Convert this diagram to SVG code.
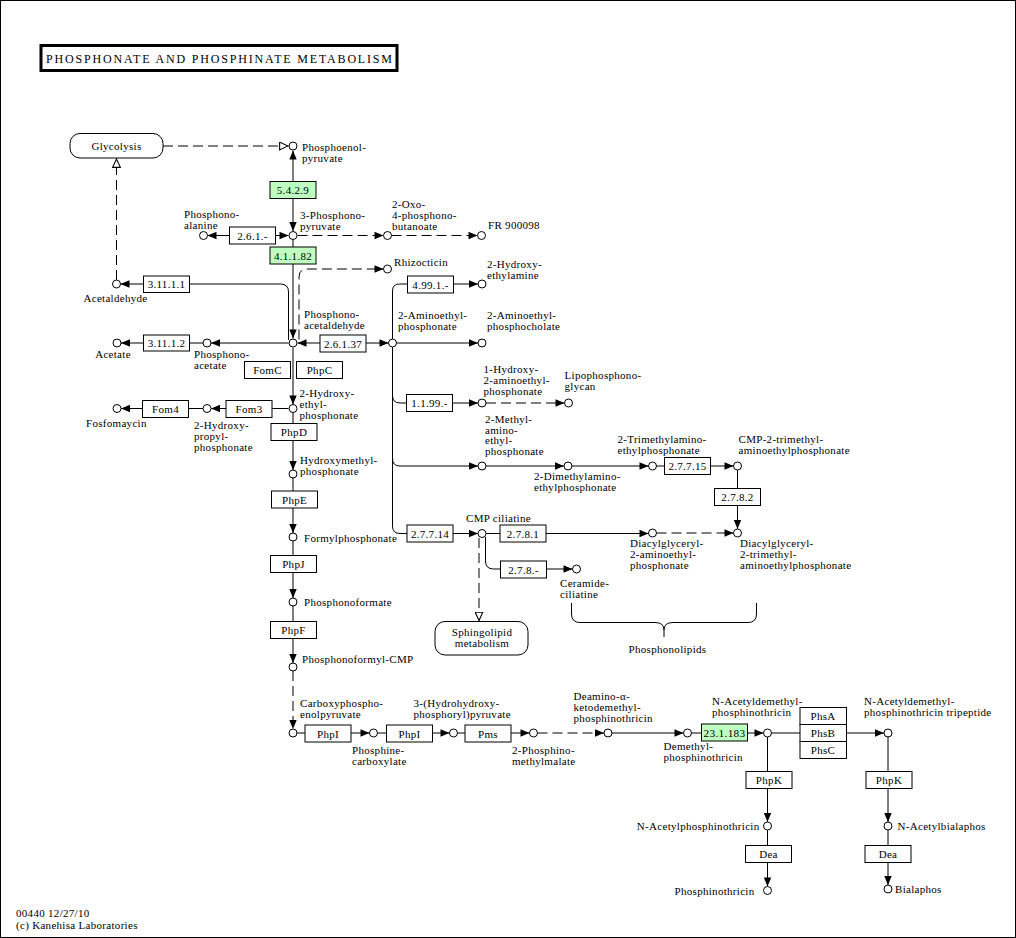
<svg xmlns="http://www.w3.org/2000/svg" width="1016" height="938" viewBox="0 0 1016 938">
<style>
text{font-family:"Liberation Serif","Times New Roman",serif;font-size:11px;letter-spacing:0.3px;fill:#000}
.m{text-anchor:middle}
.r{text-anchor:end}
.c{fill:#fff;stroke:#000;stroke-width:1}
.e{fill:#fff;stroke:#000;stroke-width:1}
.g{fill:#bfffbf;stroke:#000;stroke-width:1}
.map{fill:#fff;stroke:#000;stroke-width:1}
.ln{fill:none;stroke:#000;stroke-width:1}
.d{stroke-dasharray:10 5}
</style>
<defs>
<marker id="a" markerUnits="userSpaceOnUse" markerWidth="10" markerHeight="8" viewBox="0 0 9 8" refX="9" refY="4" orient="auto-start-reverse"><path d="M0,0.3 L9,4 L0,7.7 z" fill="#000" stroke="none"/></marker>
<marker id="h" markerUnits="userSpaceOnUse" markerWidth="10" markerHeight="9" viewBox="0 0 9 8" refX="8.5" refY="4" orient="auto"><path d="M0.5,0.5 L8,4 L0.5,7.5 z" fill="#fff" stroke="#000" stroke-width="1" stroke-dasharray="none"/></marker>
</defs>
<rect x="0.5" y="0.5" width="1015" height="937" fill="#fff" stroke="#000" stroke-width="1"/>
<g id="title">
<rect x="41" y="45.5" width="356" height="25" fill="#fff" stroke="#000" stroke-width="3"/>
<text x="46" y="63" style="font-size:12px;letter-spacing:0" textLength="346" lengthAdjust="spacing">PHOSPHONATE  AND  PHOSPHINATE  METABOLISM</text>
</g>
<g id="connectors">
<path class="ln d" d="M163,146 H288.5" marker-end="url(#h)"/>
<path class="ln d" d="M116.5,280 V158.5" marker-end="url(#h)"/>
<path class="ln" d="M293,150.5 V231" marker-start="url(#a)" marker-end="url(#a)"/>
<path class="ln" d="M207.5,235.5 H288.5" marker-start="url(#a)" marker-end="url(#a)"/>
<path class="ln d" d="M297.5,235.5 H383.5"  marker-end="url(#a)"/>
<path class="ln d" d="M391.5,235.5 H477.5" marker-end="url(#a)"/>
<path class="ln" d="M293,240 V338.5" marker-end="url(#a)"/>
<path class="ln" d="M288.5,340 V292 Q288.5,284 280.5,284 H120.5" marker-end="url(#a)"/>
<path class="ln d" d="M299,339.5 V277 Q299,269 307,269 H383.5" marker-end="url(#a)"/>
<path class="ln" d="M288.5,343 H211" marker-end="url(#a)"/>
<path class="ln" d="M203,343 H121" marker-end="url(#a)"/>
<path class="ln" d="M297.5,343 H388.5" marker-start="url(#a)" marker-end="url(#a)"/>
<path class="ln" d="M293,347.5 V404.5" marker-end="url(#a)"/>
<path class="ln" d="M288.5,408.5 H211" marker-end="url(#a)"/>
<path class="ln" d="M203,408.5 H121" marker-end="url(#a)"/>
<path class="ln" d="M293,412.5 V470" marker-end="url(#a)"/>
<path class="ln" d="M293,478 V533" marker-end="url(#a)"/>
<path class="ln" d="M293,541 V598" marker-end="url(#a)"/>
<path class="ln" d="M293,606 V663" marker-end="url(#a)"/>
<path class="ln d" d="M293,671 V729" marker-end="url(#a)"/>
<path class="ln" d="M297,733 H369.5" marker-end="url(#a)"/>
<path class="ln" d="M377.5,733 H449.5" marker-end="url(#a)"/>
<path class="ln" d="M457.5,733 H529.5" marker-end="url(#a)"/>
<path class="ln d" d="M537.5,733 H604" marker-end="url(#a)"/>
<path class="ln" d="M612,733 H683.5" marker-end="url(#a)"/>
<path class="ln" d="M691.5,733 H763.5" marker-end="url(#a)"/>
<path class="ln" d="M771.5,733 H884" marker-end="url(#a)"/>
<path class="ln" d="M767.5,737 V822" marker-end="url(#a)"/>
<path class="ln" d="M767.5,830 V886.5" marker-end="url(#a)"/>
<path class="ln" d="M888,737 V822" marker-end="url(#a)"/>
<path class="ln" d="M888,830 V885" marker-end="url(#a)"/>
<path class="ln" d="M392.5,339 V291 Q392.5,284 399.5,284 H478" marker-end="url(#a)"/>
<path class="ln" d="M396.5,343 H478" marker-end="url(#a)"/>
<path class="ln" d="M392.5,347 V526 Q392.5,533.5 400,533.5 H478" marker-end="url(#a)"/>
<path class="ln" d="M392.5,395.5 Q392.5,403 400,403 H478" marker-end="url(#a)"/>
<path class="ln" d="M392.5,458.5 Q392.5,466 400,466 H478" marker-end="url(#a)"/>
<path class="ln d" d="M486,403 H564.5" marker-end="url(#a)"/>
<path class="ln" d="M486,466 H564" marker-end="url(#a)"/>
<path class="ln" d="M572,466 H648.5" marker-end="url(#a)"/>
<path class="ln" d="M656.5,466 H733.5" marker-end="url(#a)"/>
<path class="ln" d="M737.5,470 V529" marker-end="url(#a)"/>
<path class="ln" d="M486,533.5 H648.5" marker-end="url(#a)"/>
<path class="ln d" d="M656.5,533 H733.5" marker-end="url(#a)"/>
<path class="ln" d="M485.5,537 V561 Q485.5,569 493.5,569 H572.5" marker-end="url(#a)"/>
<path class="ln d" d="M479,538 V621" marker-end="url(#h)"/>
</g>
<g id="brace">
<path class="ln" d="M571.5,603 V614 Q571.5,622.5 580,622.5 H655 Q664,622.5 664,630 V637 M664,630 Q664,622.5 673,622.5 H748 Q756.5,622.5 756.5,614 V603"/>
<text class="m" x="667.5" y="653">Phosphonolipids</text>
</g>
<g id="map-glycolysis"><rect class="map" x="70" y="133.5" width="93" height="24.5" rx="10"/><text class="m" x="116.5" y="150">Glycolysis</text></g>
<g id="map-sphingolipid"><rect class="map" x="435" y="621.5" width="93" height="33.5" rx="10"/><text class="m" x="482" y="635.5">Sphingolipid<tspan x="482" dy="11">metabolism</tspan></text></g>
<g id="e-5.4.2.9"><rect class="g" x="270" y="181.5" width="46" height="17"/><text class="m" x="293" y="194">5.4.2.9</text></g>
<g id="e-2.6.1.-"><rect class="e" x="229.5" y="227" width="46" height="17"/><text class="m" x="252.5" y="239.5">2.6.1.-</text></g>
<g id="e-4.1.1.82"><rect class="g" x="270" y="247" width="46" height="17"/><text class="m" x="293" y="259.5">4.1.1.82</text></g>
<g id="e-3.11.1.1"><rect class="e" x="143.5" y="276" width="46" height="16.5"/><text class="m" x="166.5" y="288">3.11.1.1</text></g>
<g id="e-3.11.1.2"><rect class="e" x="143.5" y="335" width="46" height="16"/><text class="m" x="166.5" y="347">3.11.1.2</text></g>
<g id="e-2.6.1.37"><rect class="e" x="320" y="335" width="46" height="17"/><text class="m" x="343" y="347.5">2.6.1.37</text></g>
<g id="e-FomC"><rect class="e" x="244.5" y="361.5" width="46" height="17"/><text class="m" x="267.5" y="374">FomC</text></g>
<g id="e-PhpC"><rect class="e" x="296.5" y="361.5" width="46" height="17"/><text class="m" x="319.5" y="374">PhpC</text></g>
<g id="e-Fom3"><rect class="e" x="226" y="400.5" width="46" height="17"/><text class="m" x="249" y="413">Fom3</text></g>
<g id="e-Fom4"><rect class="e" x="142.5" y="400.5" width="46" height="17"/><text class="m" x="165.5" y="413">Fom4</text></g>
<g id="e-PhpD"><rect class="e" x="271" y="423.5" width="46" height="17"/><text class="m" x="294" y="436">PhpD</text></g>
<g id="e-PhpE"><rect class="e" x="271.5" y="491" width="46" height="17"/><text class="m" x="294.5" y="503.5">PhpE</text></g>
<g id="e-PhpJ"><rect class="e" x="270.5" y="555.5" width="46" height="17"/><text class="m" x="293.5" y="568">PhpJ</text></g>
<g id="e-PhpF"><rect class="e" x="270.5" y="621.5" width="46" height="17"/><text class="m" x="293.5" y="634">PhpF</text></g>
<g id="e-4.99.1.-"><rect class="e" x="407.5" y="276" width="46" height="17"/><text class="m" x="430.5" y="288.5">4.99.1.-</text></g>
<g id="e-1.1.99.-"><rect class="e" x="406.5" y="394.5" width="46" height="17"/><text class="m" x="429.5" y="407">1.1.99.-</text></g>
<g id="e-2.7.7.15"><rect class="e" x="664.5" y="457.5" width="46" height="17"/><text class="m" x="687.5" y="470">2.7.7.15</text></g>
<g id="e-2.7.8.2"><rect class="e" x="714.5" y="488.5" width="46" height="17"/><text class="m" x="737.5" y="501">2.7.8.2</text></g>
<g id="e-2.7.7.14"><rect class="e" x="407" y="525" width="46" height="17"/><text class="m" x="430" y="537.5">2.7.7.14</text></g>
<g id="e-2.7.8.1"><rect class="e" x="500" y="525" width="46" height="17"/><text class="m" x="523" y="537.5">2.7.8.1</text></g>
<g id="e-2.7.8.-"><rect class="e" x="500.5" y="561" width="46" height="17"/><text class="m" x="523.5" y="573.5">2.7.8.-</text></g>
<g id="e-PhpI-1"><rect class="e" x="305" y="725" width="46" height="17"/><text class="m" x="328" y="737.5">PhpI</text></g>
<g id="e-PhpI-2"><rect class="e" x="386.5" y="725" width="46" height="17"/><text class="m" x="409.5" y="737.5">PhpI</text></g>
<g id="e-Pms"><rect class="e" x="465" y="725" width="46" height="17"/><text class="m" x="488" y="737.5">Pms</text></g>
<g id="e-2.3.1.183"><rect class="g" x="701.5" y="724" width="46" height="17"/><text class="m" x="724.5" y="736.5" textLength="42" lengthAdjust="spacingAndGlyphs">23.1.183</text></g>
<g id="e-Phs"><rect class="e" x="800" y="707.5" width="46.5" height="17"/><text class="m" x="823" y="720">PhsA</text><rect class="e" x="800" y="724.5" width="46.5" height="17"/><text class="m" x="823" y="737">PhsB</text><rect class="e" x="800" y="741.5" width="46.5" height="17"/><text class="m" x="823" y="754">PhsC</text></g>
<g id="e-PhpK-1"><rect class="e" x="746" y="771.5" width="46" height="17"/><text class="m" x="769" y="784">PhpK</text></g>
<g id="e-PhpK-2"><rect class="e" x="866" y="771.5" width="46" height="17"/><text class="m" x="889" y="784">PhpK</text></g>
<g id="e-Dea-1"><rect class="e" x="745.5" y="845.5" width="46" height="17"/><text class="m" x="768.5" y="858">Dea</text></g>
<g id="e-Dea-2"><rect class="e" x="865" y="845.5" width="46" height="17"/><text class="m" x="888" y="858">Dea</text></g>
<g id="c-pep"><circle class="c" cx="293" cy="146" r="4"/><text x="302" y="151">Phosphoenol-<tspan x="302" dy="11">pyruvate</tspan></text></g>
<g id="c-3pp"><circle class="c" cx="293" cy="235.5" r="4"/><text x="300" y="219">3-Phosphono-<tspan x="300" dy="11">pyruvate</tspan></text></g>
<g id="c-pala"><circle class="c" cx="203.5" cy="235.5" r="4"/><text x="184" y="217.5">Phosphono-<tspan x="184" dy="11">alanine</tspan></text></g>
<g id="c-oxo"><circle class="c" cx="387.5" cy="235.5" r="4"/><text x="392" y="208">2-Oxo-<tspan x="392" dy="11">4-phosphono-</tspan><tspan x="392" dy="11">butanoate</tspan></text></g>
<g id="c-fr"><circle class="c" cx="481.5" cy="235.5" r="4"/><text x="488" y="229">FR 900098</text></g>
<g id="c-rhiz"><circle class="c" cx="387.5" cy="269" r="4"/><text x="394" y="266">Rhizocticin</text></g>
<g id="c-hea"><circle class="c" cx="482" cy="284" r="4"/><text x="487" y="268">2-Hydroxy-<tspan x="487" dy="11">ethylamine</tspan></text></g>
<g id="c-acetald"><circle class="c" cx="116.5" cy="284" r="4"/><text class="m" x="115.5" y="301.5">Acetaldehyde</text></g>
<g id="c-paa"><circle class="c" cx="293" cy="343" r="4"/><text x="304" y="318">Phosphono-<tspan x="304" dy="11">acetaldehyde</tspan></text></g>
<g id="c-aep"><circle class="c" cx="392.5" cy="343" r="4"/><text x="398" y="319">2-Aminoethyl-<tspan x="398" dy="11">phosphonate</tspan></text></g>
<g id="c-aepc"><circle class="c" cx="482" cy="343" r="4"/><text x="487" y="319">2-Aminoethyl-<tspan x="487" dy="11">phosphocholate</tspan></text></g>
<g id="c-pac"><circle class="c" cx="207" cy="343" r="4"/><text x="194" y="357.5">Phosphono-<tspan x="194" dy="11">acetate</tspan></text></g>
<g id="c-acetate"><circle class="c" cx="117" cy="343" r="4"/><text class="m" x="113" y="358">Acetate</text></g>
<g id="c-2hep"><circle class="c" cx="293" cy="408.5" r="4"/><text x="299.5" y="396.5">2-Hydroxy-<tspan x="299.5" dy="11">ethyl-</tspan><tspan x="299.5" dy="11">phosphonate</tspan></text></g>
<g id="c-2hpp"><circle class="c" cx="207" cy="408.5" r="4"/><text x="194" y="429">2-Hydroxy-<tspan x="194" dy="11">propyl-</tspan><tspan x="194" dy="11">phosphonate</tspan></text></g>
<g id="c-fos"><circle class="c" cx="117" cy="408.5" r="4"/><text x="86" y="426.5">Fosfomaycin</text></g>
<g id="c-hmp"><circle class="c" cx="293" cy="474" r="4"/><text x="300" y="464">Hydroxymethyl-<tspan x="300" dy="11">phosphonate</tspan></text></g>
<g id="c-fp"><circle class="c" cx="293" cy="537" r="4"/><text x="304" y="541.5">Formylphosphonate</text></g>
<g id="c-pf"><circle class="c" cx="293" cy="602" r="4"/><text x="304" y="606">Phosphonoformate</text></g>
<g id="c-pfcmp"><circle class="c" cx="293" cy="667" r="4"/><text x="302" y="662.5">Phosphonoformyl-CMP</text></g>
<g id="c-cpep"><circle class="c" cx="293" cy="733" r="4"/><text x="300" y="706.5">Carboxyphospho-<tspan x="300" dy="11">enolpyruvate</tspan></text></g>
<g id="c-pc"><circle class="c" cx="373.5" cy="733" r="4"/><text x="352" y="754">Phosphine-<tspan x="352" dy="11">carboxylate</tspan></text></g>
<g id="c-hhpp"><circle class="c" cx="453.5" cy="733" r="4"/><text x="413.5" y="706.5">3-(Hydrohydroxy-<tspan x="413.5" dy="11">phosphoryl)pyruvate</tspan></text></g>
<g id="c-pmm"><circle class="c" cx="533.5" cy="733" r="4"/><text x="512" y="754">2-Phosphino-<tspan x="512" dy="11">methylmalate</tspan></text></g>
<g id="c-deamino"><circle class="c" cx="608" cy="733" r="4"/><text x="573.5" y="699.5">Deamino-α-<tspan x="573.5" dy="11">ketodemethyl-</tspan><tspan x="573.5" dy="11">phosphinothricin</tspan></text></g>
<g id="c-dmpt"><circle class="c" cx="687.5" cy="733" r="4"/><text x="663.5" y="750">Demethyl-<tspan x="663.5" dy="11">phosphinothricin</tspan></text></g>
<g id="c-nadmpt"><circle class="c" cx="767.5" cy="733" r="4"/><text x="712" y="704.5">N-Acetyldemethyl-<tspan x="712" dy="11">phosphinothricin</tspan></text></g>
<g id="c-tripep"><circle class="c" cx="888" cy="733" r="4"/><text x="864" y="704.5">N-Acetyldemethyl-<tspan x="864" dy="11">phosphinothricin tripeptide</tspan></text></g>
<g id="c-napt"><circle class="c" cx="767.5" cy="826" r="4"/><text class="r" x="759.5" y="830">N-Acetylphosphinothricin</text></g>
<g id="c-pt"><circle class="c" cx="767.5" cy="890.5" r="4"/><text class="r" x="754.5" y="894.5">Phosphinothricin</text></g>
<g id="c-nab"><circle class="c" cx="888" cy="826" r="4"/><text x="897.5" y="830">N-Acetylbialaphos</text></g>
<g id="c-bial"><circle class="c" cx="888" cy="889" r="4"/><text x="895" y="892.5">Bialaphos</text></g>
<g id="c-1h2a"><circle class="c" cx="482" cy="403" r="4"/><text x="483.5" y="372.5">1-Hydroxy-<tspan x="483.5" dy="11">2-aminoethyl-</tspan><tspan x="483.5" dy="11">phosphonate</tspan></text></g>
<g id="c-lpg"><circle class="c" cx="568.5" cy="403" r="4"/><text x="564.5" y="379">Lipophosphono-<tspan x="564.5" dy="11">glycan</tspan></text></g>
<g id="c-2ma"><circle class="c" cx="482" cy="466" r="4"/><text x="485" y="422.5">2-Methyl-<tspan x="485" dy="11">amino-</tspan><tspan x="485" dy="10.5">ethyl-</tspan><tspan x="485" dy="11">phosphonate</tspan></text></g>
<g id="c-2dma"><circle class="c" cx="568" cy="466" r="4"/><text x="534" y="479.5">2-Dimethylamino-<tspan x="534" dy="11">ethylphosphonate</tspan></text></g>
<g id="c-2tma"><circle class="c" cx="652.5" cy="466" r="4"/><text x="617.5" y="443">2-Trimethylamino-<tspan x="617.5" dy="11">ethylphosphonate</tspan></text></g>
<g id="c-cmp2"><circle class="c" cx="737.5" cy="466" r="4"/><text x="738.5" y="443">CMP-2-trimethyl-<tspan x="738.5" dy="11">aminoethylphosphonate</tspan></text></g>
<g id="c-cmpcil"><circle class="c" cx="482" cy="533.5" r="4"/><text x="466" y="521.5">CMP ciliatine</text></g>
<g id="c-dga"><circle class="c" cx="652.5" cy="533" r="4"/><text x="630" y="547">Diacylglyceryl-<tspan x="630" dy="11">2-aminoethyl-</tspan><tspan x="630" dy="11">phosphonate</tspan></text></g>
<g id="c-dgt"><circle class="c" cx="737.5" cy="533" r="4"/><text x="740" y="547">Diacylglyceryl-<tspan x="740" dy="11">2-trimethyl-</tspan><tspan x="740" dy="11">aminoethylphosphonate</tspan></text></g>
<g id="c-cer"><circle class="c" cx="576.5" cy="569" r="4"/><text x="560" y="586.5">Ceramide-<tspan x="560" dy="11">ciliatine</tspan></text></g>
<g id="footer"><text x="16" y="917">00440 12/27/10</text><text x="16" y="928.5">(c) Kanehisa Laboratories</text></g>
</svg>
